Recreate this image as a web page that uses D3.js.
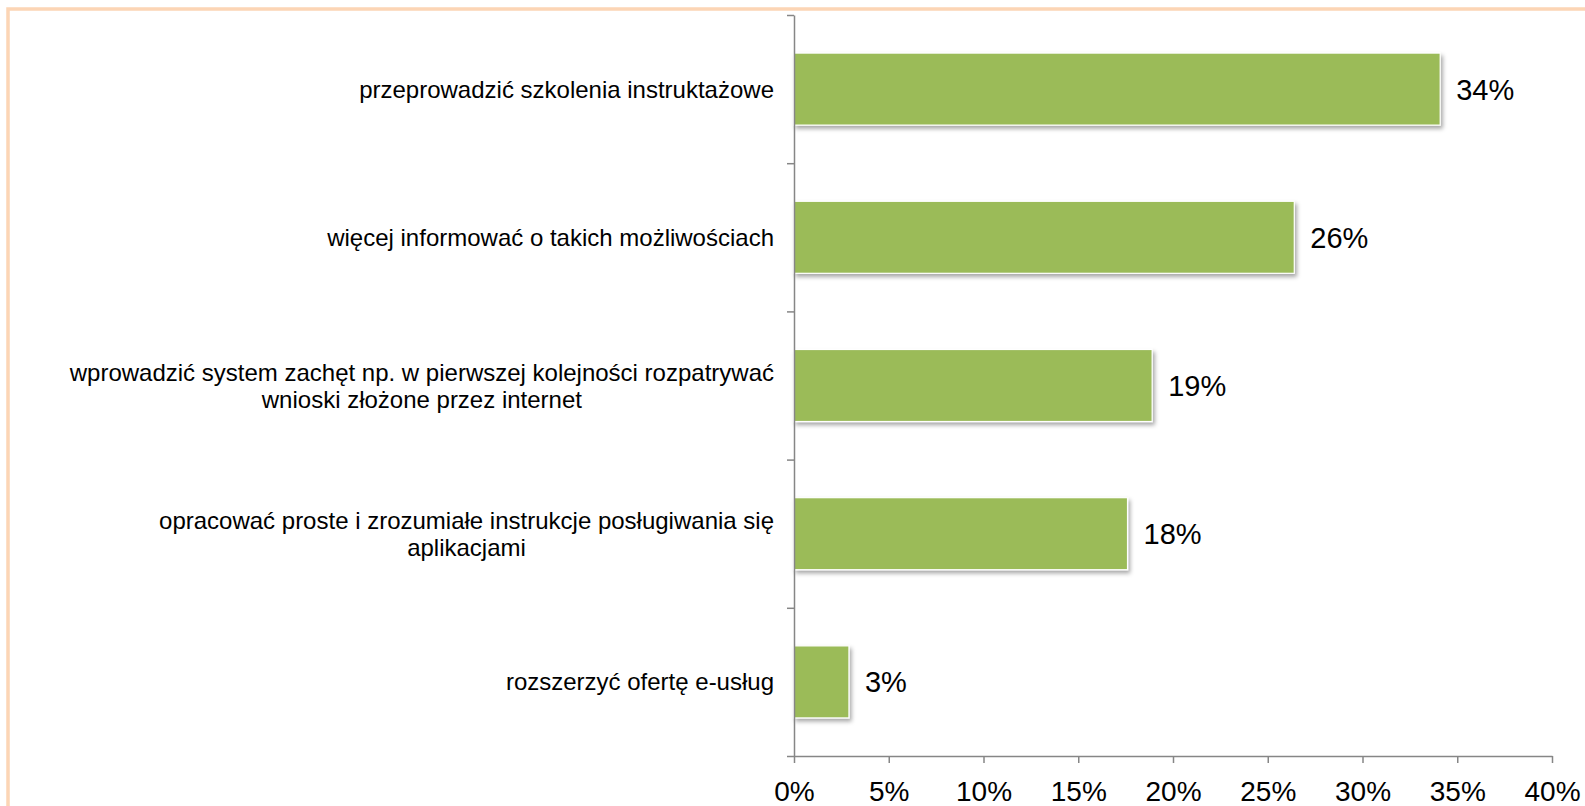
<!DOCTYPE html>
<html>
<head>
<meta charset="utf-8">
<script src="https://cdn.jsdelivr.net/npm/d3@7"></script>
<style>
  html, body { margin: 0; padding: 0; background: #fff; }
  svg { display: block; }
  text { font-family: "Liberation Sans", Arial, sans-serif; fill: #000; }
</style>
</head>
<body>
<svg id="chart" width="1585" height="806"></svg>
<script>
const categories = [
  ["przeprowadzić szkolenia instruktażowe"],
  ["więcej informować o takich możliwościach"],
  ["wprowadzić system zachęt np. w pierwszej kolejności rozpatrywać", "wnioski złożone przez internet"],
  ["opracować proste i zrozumiałe instrukcje posługiwania się", "aplikacjami"],
  ["rozszerzyć ofertę e-usług"]
];
const values = [34.1, 26.4, 18.9, 17.6, 2.9];
const valueLabels = ["34%", "26%", "19%", "18%", "3%"];
const xTicks = [0, 5, 10, 15, 20, 25, 30, 35, 40];
const xTickLabels = ["0%", "5%", "10%", "15%", "20%", "25%", "30%", "35%", "40%"];

(function () {
const svg = d3.select("#chart");

// outer frame
svg.append("rect")
  .attr("x", 8).attr("y", 9)
  .attr("width", 1700).attr("height", 900)
  .attr("fill", "none")
  .attr("stroke", "#fcd5b5")
  .attr("stroke-width", 3.5);

const defs = svg.append("defs");
const f = defs.append("filter").attr("id", "shadow")
  .attr("x", "-10%").attr("y", "-10%").attr("width", "130%").attr("height", "140%");
f.append("feDropShadow")
  .attr("dx", 2).attr("dy", 3).attr("stdDeviation", 2)
  .attr("flood-color", "#000").attr("flood-opacity", 0.35);

const pLeft = 794, pRight = 1552, pTop = 15, pBottom = 756;

const x = d3.scaleLinear().domain([0, 40]).range([pLeft, pRight]);
const idx = d3.range(categories.length);
const p = 0.514;
const y = d3.scaleBand().domain(idx).range([pTop, pBottom]).paddingInner(p).paddingOuter(p / 2);
const yEdge = d3.scaleLinear().domain([0, categories.length]).range([pTop, pBottom]);

// bars
svg.append("g").selectAll("rect")
  .data(values)
  .join("rect")
  .attr("x", x(0))
  .attr("y", (d, i) => y(i))
  .attr("width", d => x(d) - x(0))
  .attr("height", y.bandwidth())
  .attr("fill", "#9bbb59")
  .attr("stroke", "#ffffff")
  .attr("stroke-width", 1.2)
  .attr("filter", "url(#shadow)");

// y axis (category boundaries)
const yAxis = svg.append("g")
  .attr("transform", `translate(${pLeft},0)`)
  .call(d3.axisLeft(yEdge).tickValues(d3.range(categories.length + 1)).tickFormat("").tickSize(7).tickSizeOuter(0));
yAxis.selectAll("path, line").attr("stroke", "#868686").attr("stroke-width", 1.5);

// x axis
const xAxis = svg.append("g")
  .attr("transform", `translate(0,${pBottom})`)
  .call(d3.axisBottom(x).tickValues(xTicks).tickFormat((d, i) => xTickLabels[i]).tickSize(7).tickSizeOuter(0).tickPadding(10));
xAxis.selectAll("path, line").attr("stroke", "#868686").attr("stroke-width", 1.5);
xAxis.selectAll("text")
  .attr("font-size", 28)
  .attr("fill", "#000")
  .attr("font-family", "Liberation Sans, Arial, sans-serif")
  .attr("dy", null)
  .attr("y", 45);

// category labels (each line centred in a box right-aligned to the axis)
const lineH = 27;
const labelRight = 774;
svg.append("g").selectAll("text")
  .data(categories)
  .join("text")
  .attr("font-size", 24)
  .each(function (lines, i) {
    const t = d3.select(this);
    const cy = y(i) + y.bandwidth() / 2;
    const n = lines.length;
    const tspans = t.selectAll("tspan")
      .data(lines)
      .join("tspan")
      .attr("y", (l, j) => cy + (j - (n - 1) / 2) * lineH + 8.5)
      .text(l => l);
    let maxW = 0;
    tspans.each(function () { maxW = Math.max(maxW, this.getComputedTextLength()); });
    t.attr("text-anchor", "middle");
    tspans.attr("x", labelRight - maxW / 2);
  });

// value labels
svg.append("g").selectAll("text")
  .data(values)
  .join("text")
  .attr("x", d => x(d) + 16)
  .attr("y", (d, i) => y(i) + y.bandwidth() / 2 + 10.5)
  .attr("font-size", 29)
  .text((d, i) => valueLabels[i]);
})();
</script>
</body>
</html>
